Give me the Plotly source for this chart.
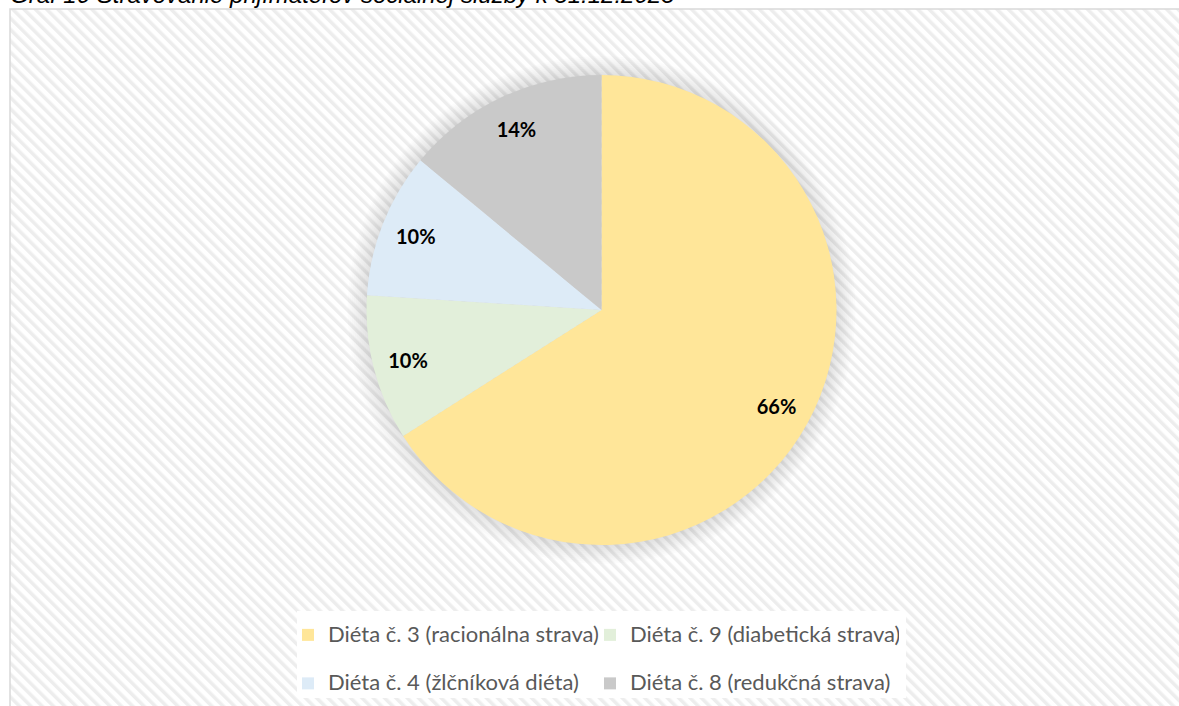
import base64
import plotly.graph_objects as go

# ---- data ----
labels = [
    "Diéta č. 3 (racionálna strava)",
    "Diéta č. 9 (diabetická strava)",
    "Diéta č. 4 (žlčníková diéta)",
    "Diéta č. 8 (redukčná strava)",
]
values = [66, 10, 10, 14]
colors = ["#FFE699", "#E2EFDA", "#DDEBF7", "#C9C9C9"]
title_text = "Graf 10 Stravovanie prijímateľov sociálnej služby k 31.12.2023"

W, H = 1179, 706
ML, MR = 285, 261
PW = W - ML - MR


def px_x(x):
    return (x - ML) / PW


def px_y(y):
    return 1 - y / H


# striped background as an inline svg image
bw, bh = W - 10, H - 9
svg = (
    f'<svg xmlns="http://www.w3.org/2000/svg" width="{bw}" height="{bh}">'
    '<defs><pattern id="p" width="8" height="8" patternUnits="userSpaceOnUse" '
    'patternTransform="rotate(-45)"><rect width="8" height="8" fill="#ffffff"/>'
    '<rect width="3.5" height="8" fill="#ededed"/></pattern></defs>'
    f'<rect width="{bw}" height="{bh}" fill="url(#p)"/></svg>'
)
src = "data:image/svg+xml;base64," + base64.b64encode(svg.encode()).decode()

dom_y = [px_y(545), px_y(75)]
dom_x = [px_x(366.5), px_x(836.5)]

legend_labels = [
    f"<span style='font-size:22px'>{l}</span><br> " for l in labels
]

fig = go.Figure()
fig.add_trace(go.Pie(
    labels=legend_labels, values=values, sort=False,
    direction="clockwise", rotation=0,
    marker=dict(colors=colors, line=dict(width=0)),
    textinfo="none", domain=dict(x=dom_x, y=dom_y), showlegend=True,
    hoverinfo="percent",
))
fig.add_trace(go.Pie(
    labels=legend_labels, values=values, sort=False,
    direction="clockwise", rotation=0, hole=0.7,
    marker=dict(colors=["rgba(0,0,0,0)"] * 4, line=dict(width=0)),
    texttemplate="%{percent:.0%}", textposition="inside",
    insidetextorientation="horizontal",
    textfont=dict(family="Lato", size=20, color="#000000", weight="bold"),
    domain=dict(x=dom_x, y=dom_y), showlegend=False, hoverinfo="skip",
))

shapes = []
cx, cy = (dom_x[0] + dom_x[1]) / 2, (dom_y[0] + dom_y[1]) / 2
for i in range(10):
    r = 236 + i * 2
    shapes.append(dict(
        type="circle", xref="paper", yref="paper",
        xsizemode="pixel", ysizemode="pixel", xanchor=cx, yanchor=cy,
        x0=-r, x1=r, y0=-r, y1=r, fillcolor="rgba(0,0,0,0.012)",
        line=dict(width=0), layer="below",
    ))
# legend background box
shapes.append(dict(
    type="rect", xref="paper", yref="paper",
    x0=px_x(297), x1=px_x(906), y0=px_y(611), y1=px_y(698),
    line=dict(width=0), fillcolor="#ffffff", layer="below",
))
# chart frame
shapes.append(dict(
    type="rect", xref="paper", yref="paper",
    x0=px_x(10), x1=px_x(W + 20), y0=px_y(9), y1=px_y(H + 20),
    line=dict(color="#d9d9d9", width=1.5), fillcolor="rgba(0,0,0,0)", layer="above",
))

fig.update_layout(
    width=W, height=H,
    margin=dict(l=ML, r=MR, t=0, b=0, autoexpand=False),
    paper_bgcolor="#ffffff", plot_bgcolor="#ffffff",
    images=[dict(source=src, xref="paper", yref="paper", x=px_x(10), y=px_y(9),
                 sizex=bw / PW, sizey=bh / H, xanchor="left", yanchor="top",
                 sizing="stretch", layer="below")],
    shapes=shapes,
    legend=dict(orientation="h", x=px_x(295), xanchor="left", y=px_y(617), yanchor="top",
                bgcolor="rgba(0,0,0,0)", font=dict(family="Lato", size=17.5, color="#595959"),
                entrywidth=264, entrywidthmode="pixels", valign="top",
                indentation=-7, traceorder="normal"),
    annotations=[dict(text=f"<i>{title_text}</i>", xref="paper", yref="paper",
                      x=px_x(8), y=px_y(10), xanchor="left", yanchor="bottom",
                      showarrow=False,
                      font=dict(family="Liberation Sans", size=24, color="#000000"))],
)

fig.write_html("out.html", post_script="document.body.style.margin='0';",
               config={"displayModeBar": False})
